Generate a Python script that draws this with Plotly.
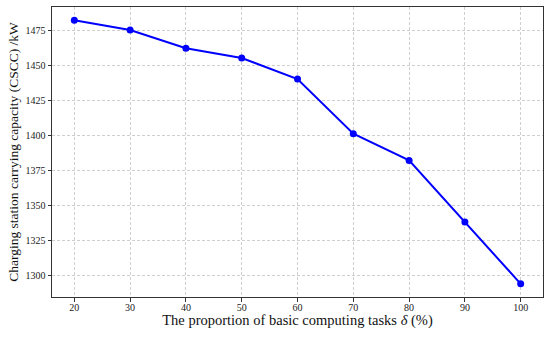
import plotly.graph_objects as go

x_vals = [20, 30, 40, 50, 60, 70, 80, 90, 100]
y_vals = [1482, 1475, 1462, 1455, 1440, 1401, 1382, 1338, 1294]
x_ticks = [20, 30, 40, 50, 60, 70, 80, 90, 100]
y_ticks = [1300, 1325, 1350, 1375, 1400, 1425, 1450, 1475]

fig = go.Figure()
fig.add_trace(go.Scatter(
    x=x_vals, y=y_vals, mode="lines+markers",
    line=dict(color="#0000ff", width=2),
    marker=dict(color="#0000ff", size=7),
    showlegend=False,
))

font_family = "Liberation Serif, Times New Roman, serif"
axis_common = dict(
    showline=True, linecolor="#333333", linewidth=1, mirror=True,
    ticks="outside", ticklen=3.5, tickcolor="#333333", tickwidth=1,
    showgrid=True, gridcolor="#cfcfcf", griddash="3px,2px", gridwidth=0.8,
    zeroline=False, automargin=False,
    tickfont=dict(family=font_family, size=10, color="#222222"),
)

fig.update_xaxes(
    range=[16, 104], tickvals=x_ticks, ticklabelstandoff=-3,
    title=dict(text="The proportion of basic computing tasks <i>δ</i> (%)",
               font=dict(family=font_family, size=14.5, color="#111111"), standoff=0),
    **axis_common,
)
fig.update_yaxes(
    range=[1284.6, 1491.4], tickvals=y_ticks,
    title=dict(text="Charging station carrying capacity (CSCC) /kW",
               font=dict(family=font_family, size=13.5, color="#111111"), standoff=3),
    **axis_common,
)

fig.update_layout(
    width=550, height=337,
    margin=dict(l=52, r=7, t=7, b=40, autoexpand=False),
    plot_bgcolor="white", paper_bgcolor="white",
)

fig.write_html("out.html", config={"displayModeBar": False},
               post_script="document.body.style.margin='0';")
